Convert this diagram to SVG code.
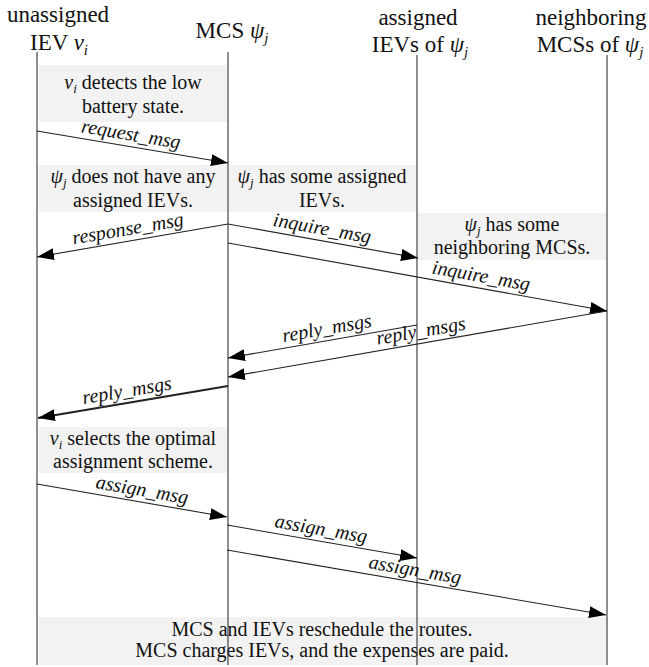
<svg xmlns="http://www.w3.org/2000/svg" width="649" height="667" viewBox="0 0 649 667">
<style>
  .hdr { font-family: "Liberation Serif", "Times New Roman", serif; font-size: 23px; fill: #111; text-anchor: middle; }
  .txt { font-family: "Liberation Serif", "Times New Roman", serif; font-size: 20px; fill: #111; text-anchor: middle; }
  .lbl { font-family: "Liberation Serif", "Times New Roman", serif; font-size: 20px; font-style: italic; fill: #111; text-anchor: middle; }
  .it { font-style: italic; }
  .life { stroke: #444; stroke-width: 1.2; fill: none; }
  .box { fill: #f2f2f2; stroke: none; }
  .msg { stroke: #222; stroke-width: 1.1; fill: none; marker-end: url(#ah); }
  .bold { stroke-width: 2.2; }
</style>
<defs>
  <marker id="ah" markerUnits="userSpaceOnUse" markerWidth="18" markerHeight="13" refX="17" refY="6" orient="auto">
    <path d="M0,0 L17,6 L0,12 z" fill="#000"/>
  </marker>
</defs>
<rect width="649" height="667" fill="#fff"/>

<!-- note boxes -->
<g id="note-detect">
  <rect class="box" x="39" y="65" width="188" height="57"/>
  <text class="txt" x="133" y="89"><tspan class="it">v</tspan><tspan class="it" font-size="13" dy="4">i</tspan><tspan dy="-4"> detects the low</tspan></text>
  <text class="txt" x="133" y="113">battery state.</text>
</g>
<g id="note-noassigned">
  <rect class="box" x="39" y="165" width="188" height="47"/>
  <text class="txt" x="133" y="183"><tspan class="it">ψ</tspan><tspan class="it" font-size="13" dy="4">j</tspan><tspan dy="-4"> does not have any</tspan></text>
  <text class="txt" x="133" y="207">assigned IEVs.</text>
</g>
<g id="note-someassigned">
  <rect class="box" x="229" y="165" width="187" height="47"/>
  <text class="txt" x="322" y="183"><tspan class="it">ψ</tspan><tspan class="it" font-size="13" dy="4">j</tspan><tspan dy="-4"> has some assigned</tspan></text>
  <text class="txt" x="322" y="207">IEVs.</text>
</g>
<g id="note-neighbors">
  <rect class="box" x="418" y="213" width="188" height="47"/>
  <text class="txt" x="512" y="231"><tspan class="it">ψ</tspan><tspan class="it" font-size="13" dy="4">j</tspan><tspan dy="-4"> has some</tspan></text>
  <text class="txt" x="512" y="254">neighboring MCSs.</text>
</g>
<g id="note-selects">
  <rect class="box" x="39" y="427" width="188" height="46"/>
  <text class="txt" x="133" y="445"><tspan class="it">v</tspan><tspan class="it" font-size="13" dy="4">i</tspan><tspan dy="-4"> selects the optimal</tspan></text>
  <text class="txt" x="133" y="468">assignment scheme.</text>
</g>
<g id="note-final">
  <rect class="box" x="39" y="617" width="567" height="48"/>
  <text class="txt" x="322" y="636">MCS and IEVs reschedule the routes.</text>
  <text class="txt" x="322" y="657">MCS charges IEVs, and the expenses are paid.</text>
</g>

<!-- lifelines -->
<g id="ev">
  <text class="hdr" x="58" y="22">unassigned</text>
  <text class="hdr" x="59" y="50">IEV <tspan class="it">v</tspan><tspan class="it" font-size="15" dy="5">i</tspan></text>
  <line class="life" x1="37" y1="52" x2="37" y2="665"/>
</g>
<g id="mcs">
  <text class="hdr" x="232" y="38">MCS <tspan class="it">ψ</tspan><tspan class="it" font-size="15" dy="5">j</tspan></text>
  <line class="life" x1="228" y1="52" x2="228" y2="665"/>
</g>
<g id="assigned">
  <text class="hdr" x="418" y="25">assigned</text>
  <text class="hdr" x="420" y="52">IEVs of <tspan class="it">ψ</tspan><tspan class="it" font-size="15" dy="5">j</tspan></text>
  <line class="life" x1="417" y1="55" x2="417" y2="665"/>
</g>
<g id="neighbors">
  <text class="hdr" x="591" y="25">neighboring</text>
  <text class="hdr" x="590" y="52">MCSs of <tspan class="it">ψ</tspan><tspan class="it" font-size="15" dy="5">j</tspan></text>
  <line class="life" x1="607" y1="55" x2="607" y2="665"/>
</g>

<!-- connectors -->
<g id="connectors">
  <line class="msg" x1="37" y1="131" x2="228" y2="163"/>
  <text class="lbl" transform="translate(129,146.4) rotate(9.51)" y="-6">request_msg</text>

  <line class="msg" x1="228" y1="224" x2="37" y2="257"/>
  <text class="lbl" transform="translate(130,240.9) rotate(-9.8)" y="-6">response_msg</text>

  <line class="msg" x1="228" y1="224" x2="418" y2="258"/>
  <text class="lbl" transform="translate(320,240.5) rotate(10.15)" y="-6">inquire_msg</text>

  <line class="msg" x1="228" y1="243" x2="607" y2="311"/>
  <text class="lbl" transform="translate(479,288) rotate(10.17)" y="-6">inquire_msg</text>

  <line class="msg" x1="417" y1="325" x2="228" y2="358"/>
  <text class="lbl" transform="translate(329,340.4) rotate(-9.9)" y="-6">reply_msgs</text>

  <line class="msg" x1="607" y1="311" x2="228" y2="377"/>
  <text class="lbl" transform="translate(423,343) rotate(-9.88)" y="-6">reply_msgs</text>

  <line class="msg bold" x1="228" y1="386" x2="38" y2="418"/>
  <text class="lbl" transform="translate(129,402.7) rotate(-9.56)" y="-6">reply_msgs</text>

  <line class="msg" x1="37" y1="484" x2="227" y2="517"/>
  <text class="lbl" transform="translate(140,501.9) rotate(9.85)" y="-6">assign_msg</text>

  <line class="msg" x1="227" y1="525" x2="417" y2="558"/>
  <text class="lbl" transform="translate(319,541) rotate(9.85)" y="-6">assign_msg</text>

  <line class="msg" x1="227" y1="550" x2="606" y2="615"/>
  <text class="lbl" transform="translate(413,581.9) rotate(9.73)" y="-6">assign_msg</text>
</g>
</svg>
